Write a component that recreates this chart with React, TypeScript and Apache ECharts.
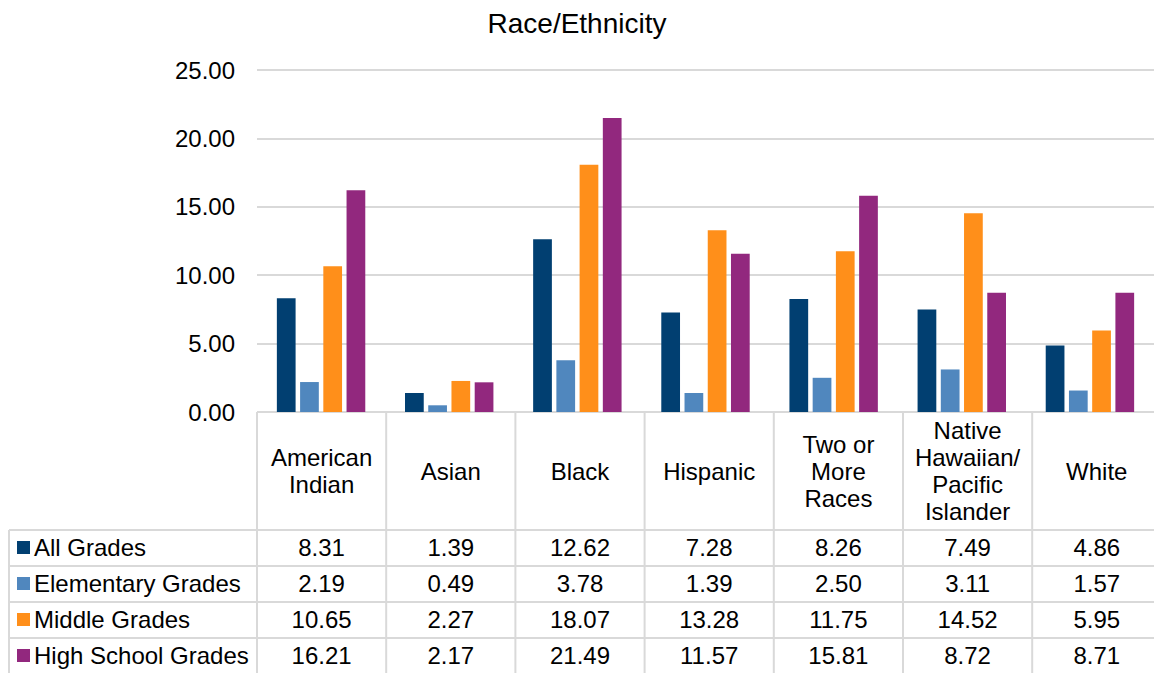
import React, { useEffect, useRef } from "react";
import * as echarts from "echarts";

const categories: string[] = [
  "American\nIndian",
  "Asian",
  "Black",
  "Hispanic",
  "Two or\nMore\nRaces",
  "Native\nHawaiian/\nPacific\nIslander",
  "White",
];
const seriesNames: string[] = ["All Grades", "Elementary Grades", "Middle Grades", "High School Grades"];
const allGrades: number[] = [8.31, 1.39, 12.62, 7.28, 8.26, 7.49, 4.86];
const elementaryGrades: number[] = [2.19, 0.49, 3.78, 1.39, 2.5, 3.11, 1.57];
const middleGrades: number[] = [10.65, 2.27, 18.07, 13.28, 11.75, 14.52, 5.95];
const highSchoolGrades: number[] = [16.21, 2.17, 21.49, 11.57, 15.81, 8.72, 8.71];
const seriesData: number[][] = [allGrades, elementaryGrades, middleGrades, highSchoolGrades];
const colors: string[] = ["#013f71", "#5087be", "#ff8f1a", "#92287e"];
const yTicks = { min: 0, max: 25, interval: 5 };

const FONT = 'Arial, "Liberation Sans", sans-serif';
const FS = 24;
const GRID_LEFT = 257;
const GRID_TOP = 70;
const AXIS_Y = 412;
const COL_W = 129.2;
const HEADER_BOTTOM = 530;
const ROW_H = 36;
const TABLE_LEFT = 9;
const LINE_COLOR = "#d9d9d9";

export default function App() {
  const ref = useRef<HTMLDivElement>(null);
  useEffect(() => {
    if (!ref.current) return;
    const chart = echarts.init(ref.current, undefined, { renderer: "svg" });
    const n = categories.length;
    const right = GRID_LEFT + COL_W * n;
    const tableBottom = HEADER_BOTTOM + ROW_H * seriesNames.length;
    const graphics: any[] = [];
    const line = (x1: number, y1: number, x2: number, y2: number) =>
      graphics.push({
        type: "line",
        shape: { x1, y1, x2, y2 },
        style: { stroke: LINE_COLOR, lineWidth: 2 },
        silent: true,
      });
    line(GRID_LEFT, AXIS_Y, right, AXIS_Y);
    for (let r = 0; r <= seriesNames.length; r++) {
      const y = HEADER_BOTTOM + r * ROW_H;
      line(TABLE_LEFT, y, right, y);
    }
    line(TABLE_LEFT, HEADER_BOTTOM, TABLE_LEFT, tableBottom);
    for (let c = 0; c <= n; c++) {
      const x = GRID_LEFT + c * COL_W;
      line(x, AXIS_Y, x, tableBottom);
    }
    categories.forEach((cat, i) => {
      graphics.push({
        type: "text",
        style: {
          text: cat,
          x: GRID_LEFT + (i + 0.5) * COL_W,
          y: (AXIS_Y + HEADER_BOTTOM) / 2,
          align: "center",
          verticalAlign: "middle",
          fontSize: FS,
          lineHeight: 27,
          fontFamily: FONT,
          fill: "#000",
        },
      });
    });
    seriesNames.forEach((name, r) => {
      const cy = HEADER_BOTTOM + (r + 0.5) * ROW_H;
      graphics.push({
        type: "rect",
        shape: { x: 17, y: cy - 7, width: 13, height: 13 },
        style: { fill: colors[r] },
      });
      graphics.push({
        type: "text",
        style: {
          text: name,
          x: 34,
          y: cy - 1,
          align: "left",
          verticalAlign: "middle",
          fontSize: FS,
          fontFamily: FONT,
          fill: "#000",
        },
      });
      seriesData[r].forEach((v, i) => {
        graphics.push({
          type: "text",
          style: {
            text: v.toFixed(2),
            x: GRID_LEFT + (i + 0.5) * COL_W,
            y: cy - 1,
            align: "center",
            verticalAlign: "middle",
            fontSize: FS,
            fontFamily: FONT,
            fill: "#000",
          },
        });
      });
    });

    chart.setOption({
      animation: false,
      backgroundColor: "#fff",
      title: {
        text: "Race/Ethnicity",
        left: "center",
        top: 4,
        textStyle: { fontSize: 28, fontWeight: "normal", color: "#000", fontFamily: FONT },
      },
      grid: { left: GRID_LEFT, top: GRID_TOP, width: COL_W * n, height: AXIS_Y - GRID_TOP },
      xAxis: {
        type: "category",
        data: categories,
        axisLine: { show: false },
        axisTick: { show: false },
        axisLabel: { show: false },
      },
      yAxis: {
        type: "value",
        min: yTicks.min,
        max: yTicks.max,
        interval: yTicks.interval,
        axisLine: { show: false },
        axisTick: { show: false },
        axisLabel: {
          formatter: (v: number) => v.toFixed(2),
          fontSize: FS,
          color: "#000",
          fontFamily: FONT,
          margin: 22,
        },
        splitLine: { lineStyle: { color: LINE_COLOR, width: 2 } },
      },
      series: seriesNames.map((name, i) => ({
        name,
        type: "bar",
        data: seriesData[i],
        itemStyle: { color: colors[i] },
        barCategoryGap: "31%",
        barGap: "24%",
      })),
      graphic: graphics,
    });
    return () => chart.dispose();
  }, []);
  return <div ref={ref} style={{ position: "fixed", left: 0, top: 0, width: 1154, height: 673 }} />;
}
